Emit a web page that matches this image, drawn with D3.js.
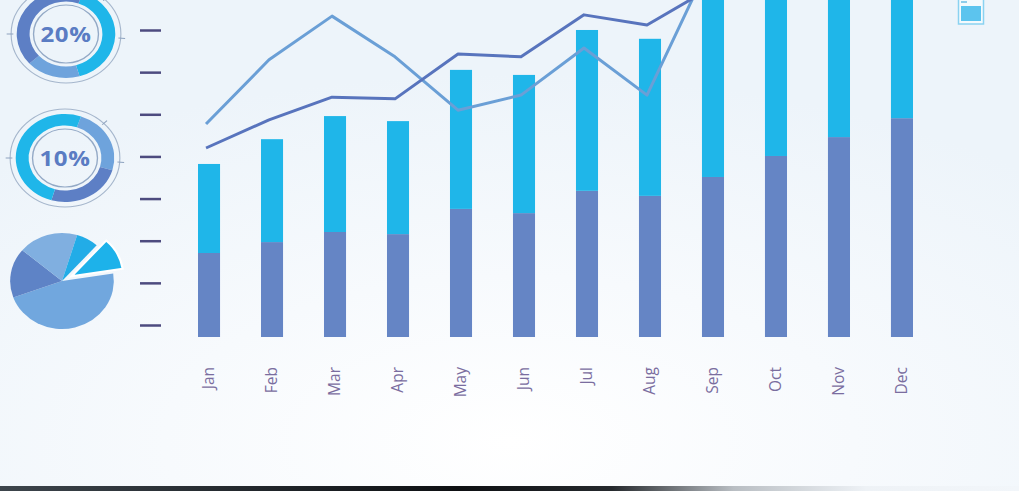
<!DOCTYPE html>
<html>
<head>
<meta charset="utf-8">
<script src="https://cdn.jsdelivr.net/npm/d3@7/dist/d3.min.js"></script>
<style>
  html, body { margin: 0; padding: 0; background: #eef4fa; }
  svg { display: block; }
</style>
</head>
<body>
<svg id="chart" width="1019" height="491"></svg>
<script>
// ---- data ----
const months = ["Jan","Feb","Mar","Apr","May","Jun","Jul","Aug","Sep","Oct","Nov","Dec"];
const lowerValues = [20.0, 22.6, 25.0, 24.5, 30.5, 29.5, 34.8, 33.6, 38.1, 43.1, 47.6, 52.1];
const upperValues = [21.2, 24.5, 27.6, 26.9, 33.1, 32.9, 38.3, 37.4, 47.9, 48.9, 48.4, 47.9];
const lineAValues = [45.0, 51.7, 57.1, 56.7, 67.4, 66.7, 76.7, 74.3, 83.0, 88.0, 92.0, 96.0];
const lineBValues = [50.7, 66.0, 76.4, 66.7, 54.0, 57.6, 68.8, 57.6, 89.3, 92.0, 95.0, 98.0];
const tickValues = [0, 1, 2, 3, 4, 5, 6, 7];
const gaugeLabels = ["20%", "10%"];
const gauge1Values = [144, 64, 152];   // degrees, starting at 20°
const gauge2Values = [87, 90, 183];    // degrees, starting at 19°
const pieValues = [169, 60, 67, 25, 39]; // degrees, starting at 81°

const C = { cyan: "#1fb6e9", steel: "#6ea3dc", dark: "#5d7fc5", bar: "#6585c5",
            lineA: "#5874bd", lineB: "#6a9fd6", tick: "#4d4b7f", label: "#7a6d9f" };

const svg = d3.select("#chart");
const W = 1019, H = 491;

// ---- background ----
const defs = svg.append("defs");
const rg = defs.append("radialGradient").attr("id", "bg")
  .attr("cx", "50%").attr("cy", "90%").attr("r", "75%");
rg.append("stop").attr("offset", "0%").attr("stop-color", "#ffffff");
rg.append("stop").attr("offset", "45%").attr("stop-color", "#f7fafd");
rg.append("stop").attr("offset", "100%").attr("stop-color", "#edf4fa");
svg.append("rect").attr("width", W).attr("height", H).attr("fill", "url(#bg)");

const sg = defs.append("linearGradient").attr("id", "strip");
[["0%","#3d454c"],["25%","#22272c"],["45%","#0e1013"],["60%","#25292d"],["72%","#b9bec3"],["85%","#eef2f6"],["100%","#f2f6fa"]]
  .forEach(([o,c]) => sg.append("stop").attr("offset", o).attr("stop-color", c));
svg.append("rect").attr("x", 0).attr("y", 486).attr("width", W).attr("height", 5).attr("fill", "url(#strip)");

// ---- scales ----
const x = d3.scaleBand().domain(months).range([198, 913]).paddingInner(0.65).paddingOuter(0);
const y = d3.scaleLinear().domain([0, 80]).range([337, 1]);
const yTick = d3.scaleLinear().domain([0, 7]).range([325, 30]);

// ---- y ticks (dashes) ----
const yAxis = svg.append("g").attr("transform", "translate(161,0)")
  .call(d3.axisLeft(yTick).tickValues(tickValues).tickSize(21).tickFormat(""));
yAxis.select(".domain").remove();
yAxis.selectAll(".tick line").attr("stroke", C.tick).attr("stroke-width", 2.5);

// ---- stacked bars ----
const stackData = months.map((m, i) => ({ month: m, lower: lowerValues[i], upper: upperValues[i] }));
const series = d3.stack().keys(["lower", "upper"])(stackData);
const colors = { lower: C.bar, upper: C.cyan };
svg.append("g").selectAll("g").data(series).join("g")
  .attr("fill", d => colors[d.key])
  .selectAll("rect").data(d => d).join("rect")
  .attr("x", d => x(d.data.month))
  .attr("width", x.bandwidth())
  .attr("y", d => y(d[1]))
  .attr("height", d => y(d[0]) - y(d[1]));

// ---- lines ----
const line = d3.line().x((d, i) => x(months[i]) + x.bandwidth() / 2 - 3).y(d => y(d));
svg.append("path").datum(lineBValues).attr("d", line)
  .attr("fill", "none").attr("stroke", C.lineB).attr("stroke-width", 3).attr("stroke-linejoin", "round");
svg.append("path").datum(lineAValues).attr("d", line)
  .attr("fill", "none").attr("stroke", C.lineA).attr("stroke-width", 3).attr("stroke-linejoin", "round");

// ---- month labels ----
svg.append("g").selectAll("text").data(months).join("text")
  .attr("transform", d => `translate(${x(d) + x.bandwidth() / 2},367) rotate(-90)`)
  .attr("dy", "0.35em")
  .attr("text-anchor", "end")
  .attr("font-family", "'Open Sans', sans-serif")
  .attr("font-size", 15.5)
  .attr("fill", C.label)
  .text(d => d);

// ---- gauges ----
const deg = Math.PI / 180;
function gauge(cx, cy, values, startDeg, cols, label) {
  const g = svg.append("g").attr("transform", `translate(${cx},${cy}) scale(1.12,1)`);
  g.append("circle").attr("r", 49).attr("fill", "none").attr("stroke", "#a5b6cc").attr("stroke-width", 1);
  g.append("circle").attr("r", 29).attr("fill", "none").attr("stroke", "#93a9c6").attr("stroke-width", 1.2);
  const pie = d3.pie().sort(null).startAngle(startDeg * deg).endAngle((startDeg + 360) * deg);
  const arc = d3.arc().innerRadius(32.5).outerRadius(44);
  g.selectAll("path").data(pie(values)).join("path").attr("d", arc).attr("fill", (d, i) => cols[i]);
  [-90, 95, 45].forEach(a => {
    const r1 = 47, r2 = 53;
    g.append("line")
      .attr("x1", r1 * Math.sin(a * deg)).attr("y1", -r1 * Math.cos(a * deg))
      .attr("x2", r2 * Math.sin(a * deg)).attr("y2", -r2 * Math.cos(a * deg))
      .attr("stroke", "#8ea3bf").attr("stroke-width", 1);
  });
  g.append("text").attr("text-anchor", "middle").attr("dy", "0.36em")
    .attr("font-family", "'Open Sans', sans-serif").attr("font-weight", 700)
    .attr("font-size", 21.5).attr("fill", "#5a7cc3").attr("letter-spacing", 0.6).text(label);
}
gauge(66, 34, gauge1Values, 20, [C.cyan, C.steel, C.dark], gaugeLabels[0]);
gauge(65, 158, gauge2Values, 19, [C.steel, C.dark, C.cyan], gaugeLabels[1]);

// ---- pie ----
const pg = svg.append("g").attr("transform", "translate(62,281) scale(1.08,1)");
const pieGen = d3.pie().sort(null).startAngle(81 * deg).endAngle(441 * deg);
const pieArc = d3.arc().innerRadius(0).outerRadius(48);
const pieCols = ["#71a7de", "#5e83c6", "#80afe0", "#22ace7", "#1db2ea"];
pg.selectAll("path").data(pieGen(pieValues)).join("path")
  .attr("d", pieArc)
  .attr("fill", (d, i) => pieCols[i])
  .attr("stroke", (d, i) => i === pieValues.length - 1 ? "#ffffff" : "none")
  .attr("stroke-width", 2)
  .attr("transform", (d, i) => {
    if (i !== pieValues.length - 1) return null;
    const a = (d.startAngle + d.endAngle) / 2;
    return `translate(${10 * Math.sin(a)},${-10 * Math.cos(a)})`;
  });

// ---- small icon top right ----
const ic = svg.append("g");
ic.append("rect").attr("x", 958.5).attr("y", -3).attr("width", 25).attr("height", 27)
  .attr("fill", "#f4fafd").attr("stroke", "#8ad2f1").attr("stroke-width", 1.5);
ic.append("rect").attr("x", 961).attr("y", 6).attr("width", 20).attr("height", 15).attr("fill", "#5cc4ee");
ic.append("rect").attr("x", 961).attr("y", 1).attr("width", 6).attr("height", 2).attr("fill", "#8fcdea");
</script>
</body>
</html>
